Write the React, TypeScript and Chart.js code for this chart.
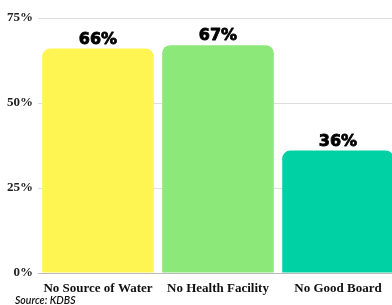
import { useEffect, useRef } from "react";
import { Chart, registerables } from "chart.js";

Chart.register(...registerables);

const categories = ["No Source of Water", "No Health Facility", "No Good Board"];
const values = [66, 67, 36];
const barColors = ["#FEF553", "#8DE87A", "#00D1A4"];
const yMin = 0;
const yMax = 75;
const yStep = 25;
const sourceNote = "Source: KDBS";

const valueLabels = {
  id: "valueLabels",
  afterDatasetsDraw(chart: any) {
    const ctx = chart.ctx;
    const meta = chart.getDatasetMeta(0);
    ctx.save();
    ctx.font = "bold 16px 'DejaVu Sans'";
    ctx.fillStyle = "#000";
    ctx.strokeStyle = "#000";
    ctx.lineWidth = 0.8;
    ctx.lineJoin = "round";
    ctx.textAlign = "center";
    ctx.textBaseline = "alphabetic";
    meta.data.forEach((bar: any, i: number) => {
      const t = values[i] + "%";
      ctx.fillText(t, bar.x, bar.y - 5);
      ctx.strokeText(t, bar.x, bar.y - 5);
    });
    ctx.restore();
  },
};

const sourcePlugin = {
  id: "sourceNote",
  afterDraw(chart: any) {
    const ctx = chart.ctx;
    ctx.save();
    ctx.font = "italic 600 10.5px Lato";
    ctx.fillStyle = "#111";
    ctx.textAlign = "left";
    ctx.textBaseline = "middle";
    ctx.fillText(sourceNote, 15, 301);
    ctx.restore();
  },
};

export default function App() {
  const ref = useRef<HTMLCanvasElement>(null);
  useEffect(() => {
    document.body.style.margin = "0";
    document.body.style.overflow = "hidden";
    const chart = new Chart(ref.current!, {
      type: "bar",
      data: {
        labels: categories,
        datasets: [
          {
            data: values,
            backgroundColor: barColors,
            borderRadius: 8,
            borderSkipped: "bottom",
            barPercentage: 0.93,
            categoryPercentage: 1,
          },
        ],
      },
      options: {
        responsive: false,
        animation: false,
        layout: { padding: { top: 18, left: 0, right: 0, bottom: 0 } },
        plugins: { legend: { display: false }, tooltip: { enabled: false } },
        scales: {
          x: {
            grid: { display: false, drawTicks: false },
            border: { display: true, color: "#bbbbbb", width: 1 },
            ticks: {
              padding: 8,
              color: "#111",
              font: { family: "'Liberation Serif'", weight: "bold", size: 13 },
              maxRotation: 0,
              autoSkip: false,
            },
            afterFit: (s: any) => {
              s.height = 32;
            },
          },
          y: {
            min: yMin,
            max: yMax,
            grid: { color: "#dddddd", drawTicks: false, lineWidth: 1 },
            border: { display: false },
            ticks: {
              stepSize: yStep,
              padding: 5,
              color: "#222",
              font: { family: "'Liberation Serif'", weight: "bold", size: 13 },
              callback: (v: any) => v + "%",
            },
            afterFit: (s: any) => {
              s.width = 38;
            },
          },
        },
      },
      plugins: [valueLabels, sourcePlugin],
    });
    return () => chart.destroy();
  }, []);
  return <canvas ref={ref} width={398} height={305} style={{ display: "block" }} />;
}
